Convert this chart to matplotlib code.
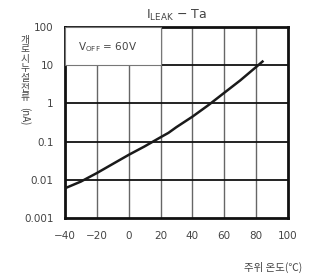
import matplotlib.pyplot as plt
import numpy as np
from matplotlib.patches import Rectangle

plt.rcParams['font.family'] = ['Noto Sans CJK KR', 'DejaVu Sans']

# data
temps = [-40, -30, -20, -10, 0, 10, 20, 25, 30, 40, 50, 60, 70, 80, 84]
leak_na = [0.006, 0.009, 0.015, 0.026, 0.045, 0.075, 0.13, 0.17, 0.24, 0.45, 0.9, 1.9, 4.0, 9.0, 12.5]

x_ticks = [-40, -20, 0, 20, 40, 60, 80, 100]
y_ticks = [0.001, 0.01, 0.1, 1, 10, 100]
y_labels = ['0.001', '0.01', '0.1', '1', '10', '100']

txt = '#444444'

fig = plt.figure(figsize=(3.09, 2.76), dpi=100)
ax = fig.add_axes([0.210, 0.210, 0.722, 0.692])

ax.set_yscale('log')
ax.set_xlim(-40, 100)
ax.set_ylim(0.001, 100)

# grid
for xv in x_ticks[1:-1]:
    ax.axvline(xv, color='#666666', lw=1.0, zorder=1)
for yv in y_ticks[1:-1]:
    ax.axhline(yv, color='#111111', lw=1.3, zorder=1)

ax.plot(temps, leak_na, color='#1a1a1a', lw=1.8, zorder=3)

# condition box
ax.add_patch(Rectangle((-40, 10), 60, 90, facecolor='white', edgecolor='#777777',
                       lw=0.8, zorder=4, transform=ax.transData))
ax.text(-32, 30, r'V$_{\mathregular{OFF}}$ = 60V', fontsize=7.5, color=txt,
        va='center', ha='left', zorder=5, family='DejaVu Sans')

ax.set_xticks(x_ticks)
ax.set_xticklabels(['−40', '−20', '0', '20', '40', '60', '80', '100'])
ax.set_yticks(y_ticks)
ax.set_yticklabels(y_labels)
ax.minorticks_off()
ax.tick_params(axis='x', length=0, labelsize=7.5, colors=txt, pad=9)
ax.tick_params(axis='y', length=0, labelsize=7.5, colors=txt, pad=8)
for lab in ax.get_xticklabels() + ax.get_yticklabels():
    lab.set_family('DejaVu Sans')

for s in ax.spines.values():
    s.set_linewidth(2.0)
    s.set_color('#111111')

fig.text(0.57, 0.945, r'I$_{\mathregular{LEAK}}$ − Ta', fontsize=9, color=txt,
         ha='center', va='center', family='DejaVu Sans')

# vertical korean y label
chars = '개로시누설전류'
for i, ch in enumerate(chars):
    fig.text(25 / 309, 1 - (40 + i * 9.5) / 276, ch, fontsize=7, color=txt,
             ha='center', va='center', rotation=0)
fig.text(25 / 309, 1 - 116 / 276, '(nA)', fontsize=7, color=txt,
         ha='center', va='center', rotation=-90)

fig.text(273 / 309, 1 - 267 / 276, '주위 온도(℃)', fontsize=7.5, color=txt,
         ha='center', va='center')

fig.savefig('out.png', dpi=100, facecolor='white')
